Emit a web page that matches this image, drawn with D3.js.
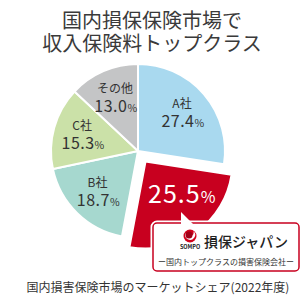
<!DOCTYPE html>
<html>
<head>
<meta charset="utf-8">
<script src="https://cdn.jsdelivr.net/npm/d3@7"></script>
<style>
  body { margin: 0; background: #fff; }
  text { font-family: "Noto Sans CJK JP", "Noto Sans", sans-serif; }
</style>
</head>
<body>
<svg id="chart" width="305" height="300"></svg>
<script>
// data
var categories = ["A社", "損保ジャパン", "B社", "C社", "その他"];
var shares = [27.4, 25.5, 18.7, 15.3, 13.0];
var sliceColors = ["#a9d9ef", "#c8001f", "#a6d8cf", "#cbe1a8", "#c4c5c6"];
var titleLines = ["国内損保保険市場で", "収入保険料トップクラス"];
var caption = "国内損害保険市場のマーケットシェア(2022年度)";
var calloutName = "損保ジャパン";
var calloutSub = "ー国内トップクラスの損害保険会社ー";

var svg = d3.select("#chart");
var cx = 138, cy = 151, r = 87;
var highlight = 1; // index of exploded slice

// title
svg.selectAll("text.title")
  .data(titleLines)
  .enter().append("text")
  .attr("class", "title")
  .attr("x", 152)
  .attr("y", function(d, i) { return 28 + i * 23; })
  .attr("text-anchor", "middle")
  .attr("font-size", 20)
  .attr("font-weight", 400)
  .attr("fill", "#3a3a3a")
  .text(function(d) { return d; });

var pie = d3.pie().sort(null).value(function(d) { return d; });
var arcs = pie(shares);
var arc = d3.arc().innerRadius(0).outerRadius(r);
var labelArc = d3.arc().innerRadius(58).outerRadius(58);
var hlArc = d3.arc().innerRadius(48).outerRadius(48);

var g = svg.append("g").attr("transform", "translate(" + cx + "," + cy + ")");

function offset(d, i) {
  if (i !== highlight) return [0, 0];
  var a = (d.startAngle + d.endAngle) / 2;
  return [Math.sin(a) * 13, -Math.cos(a) * 13];
}

g.selectAll("path.slice")
  .data(arcs)
  .enter().append("path")
  .attr("class", "slice")
  .attr("d", arc)
  .attr("transform", function(d, i) { var o = offset(d, i); return "translate(" + o[0] + "," + o[1] + ")"; })
  .attr("fill", function(d, i) { return sliceColors[i]; })
  .attr("stroke", "#fff")
  .attr("stroke-width", 2)
  .attr("stroke-linejoin", "round");

// labels of the normal slices
arcs.forEach(function(d, i) {
  if (i === highlight) return;
  var c = labelArc.centroid(d);
  g.append("text")
    .attr("x", c[0]).attr("y", c[1] - 5)
    .attr("text-anchor", "middle")
    .attr("font-size", 12)
    .attr("fill", "#333")
    .text(categories[i]);
  var t = g.append("text")
    .attr("x", c[0] + 1).attr("y", c[1] + 14)
    .attr("text-anchor", "middle")
    .attr("font-size", 16)
    .attr("fill", "#333")
    .attr("letter-spacing", 0.5);
  t.append("tspan").text(shares[i].toFixed(1));
  t.append("tspan").attr("font-size", 10.5).text("%");
});

// highlighted slice value
var hd = arcs[highlight];
var ho = offset(hd, highlight);
var hc = hlArc.centroid(hd);
var ht = g.append("text")
  .attr("x", hc[0] + ho[0] + 9).attr("y", hc[1] + ho[1] + 2)
  .attr("text-anchor", "middle")
  .attr("font-size", 25)
  .attr("fill", "#fff")
  .attr("letter-spacing", 1);
ht.append("tspan").text(shares[highlight].toFixed(1));
ht.append("tspan").attr("font-size", 16).text("%");

// callout box
var bx = 153, by = 223, bw = 146, bh = 48;
svg.append("rect")
  .attr("x", bx).attr("y", by).attr("width", bw).attr("height", bh)
  .attr("rx", 4)
  .attr("fill", "#fff")
  .attr("stroke", "#fff")
  .attr("stroke-width", 5);
svg.append("rect")
  .attr("x", bx).attr("y", by).attr("width", bw).attr("height", bh)
  .attr("rx", 4)
  .attr("fill", "#fff")
  .attr("stroke", "#c8001f")
  .attr("stroke-width", 1.5);
// tail
svg.append("path")
  .attr("d", "M181,212 L181,225 L194,225 Z")
  .attr("fill", "#fff");

// logo
var lg = svg.append("g").attr("transform", "translate(190,236)");
lg.append("circle").attr("r", 6.5).attr("fill", "#d0021b");
lg.append("path")
  .attr("d", "M-4.5,-3 A5,5 0 1,0 3.5,-4.8 A4,4 0 1,1 -4.5,-3 Z")
  .attr("fill", "#fff");
lg.append("circle").attr("cx", -1).attr("cy", -1).attr("r", 3.5).attr("fill", "#a00016");
lg.append("text")
  .attr("y", 13)
  .attr("text-anchor", "middle")
  .attr("font-size", 5.5)
  .attr("font-weight", "bold")
  .attr("fill", "#222")
  .text("SOMPO");

svg.append("text")
  .attr("x", 204).attr("y", 247)
  .attr("font-size", 14)
  .attr("font-weight", 500)
  .attr("fill", "#222")
  .text(calloutName);

svg.append("text")
  .attr("x", bx + bw / 2).attr("y", 265)
  .attr("text-anchor", "middle")
  .attr("font-size", 8)
  .attr("fill", "#333")
  .text(calloutSub);

// caption
svg.append("text")
  .attr("x", 158).attr("y", 292)
  .attr("text-anchor", "middle")
  .attr("font-size", 12)
  .attr("fill", "#333")
  .text(caption);
</script>
</body>
</html>
